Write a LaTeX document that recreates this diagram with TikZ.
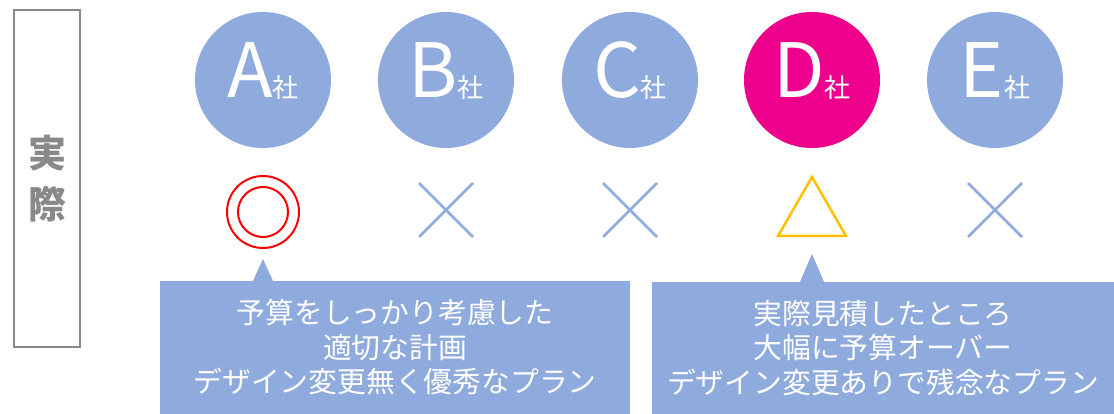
\documentclass[tikz,border=0pt]{standalone}
\usepackage{fontspec}
\setmainfont{Noto Sans CJK JP}
\usetikzlibrary{positioning}

\definecolor{azul}{HTML}{8FAADC}
\definecolor{rosa}{HTML}{EC008C}
\definecolor{amarillo}{HTML}{FFC000}
\definecolor{gris}{HTML}{898989}

\begin{document}
\begin{tikzpicture}[
    x=1pt, y=-1pt,
    empresa/.style={circle, fill=azul, minimum size=136pt, inner sep=0pt},
    nombre/.style={text=white, anchor=base, inner sep=0pt, yshift=-18pt,
        font=\fontsize{75}{75}\selectfont},
    nota/.style={fill=azul, text=white, align=center, inner sep=0pt,
        font=\fontsize{28.8}{34.5}\selectfont},
    cruz/.style={azul, line width=2.5pt}
]

\def\sha{{\fontsize{26}{26}\selectfont 社}} % sufijo de empresa
\def\X{27} % medio lado de la cruz

\useasboundingbox (0,0) rectangle (1114,414);

% Etiqueta lateral
\node[draw=gris, line width=2.5pt, minimum width=66pt, minimum height=337pt,
    text=gris, align=center, font=\fontsize{38}{51}\selectfont\bfseries]
    (real) at (47,178.5) {実\\際};

% Empresas
\node[empresa] (A) at (263,80) {};
\node[empresa] (B) at (446,80) {};
\node[empresa] (C) at (630,80) {};
\node[empresa, fill=rosa] (D) at (812,80) {};
\node[empresa] (E) at (995,80) {};
\node[nombre] (nA) at (A.center) {A\sha};
\node[nombre] (nB) at (B.center) {B\sha};
\node[nombre] (nC) at (C.center) {C\sha};
\node[nombre] (nD) at (D.center) {D\sha};
\node[nombre] (nE) at (E.center) {E\sha};

% Marcas de evaluacion
\coordinate (mA) at (263,212);
\coordinate (mB) at (446,210);
\coordinate (mC) at (630,210);
\coordinate (mD) at (812,177);
\coordinate (mE) at (995,210);
\draw[red, line width=2pt] (mA) circle (36pt) (mA) circle (25pt); % doble circulo
\draw[cruz] (mB) ++(-\X,-\X) -- ++(2*\X,2*\X) (mB) ++(-\X,\X) -- ++(2*\X,-2*\X);
\draw[cruz] (mC) ++(-\X,-\X) -- ++(2*\X,2*\X) (mC) ++(-\X,\X) -- ++(2*\X,-2*\X);
\draw[amarillo, line width=2.5pt] (mD) -- ++(34,59) -- ++(-68,0) -- cycle; % triangulo
\draw[cruz] (mE) ++(-\X,-\X) -- ++(2*\X,2*\X) (mE) ++(-\X,\X) -- ++(2*\X,-2*\X);

% Comentarios
\node[nota, minimum width=470pt, minimum height=133pt] (notaA) at (395,347.5)
    {予算をしっかり考慮した\\適切な計画\\デザイン変更無く優秀なプラン};
\node[nota, minimum width=462pt, minimum height=132pt] (notaD) at (883,348)
    {実際見積したところ\\大幅に予算オーバー\\デザイン変更ありで残念なプラン};

% Punteros
\coordinate (puntaA) at (263,259);
\coordinate (puntaD) at (812,254);
\fill[azul] (puntaA) -- ++(10.5,23) -- ++(-21,0) -- cycle;
\fill[azul] (puntaD) -- ++(12.5,29) -- ++(-25,0) -- cycle;

\end{tikzpicture}
\end{document}
